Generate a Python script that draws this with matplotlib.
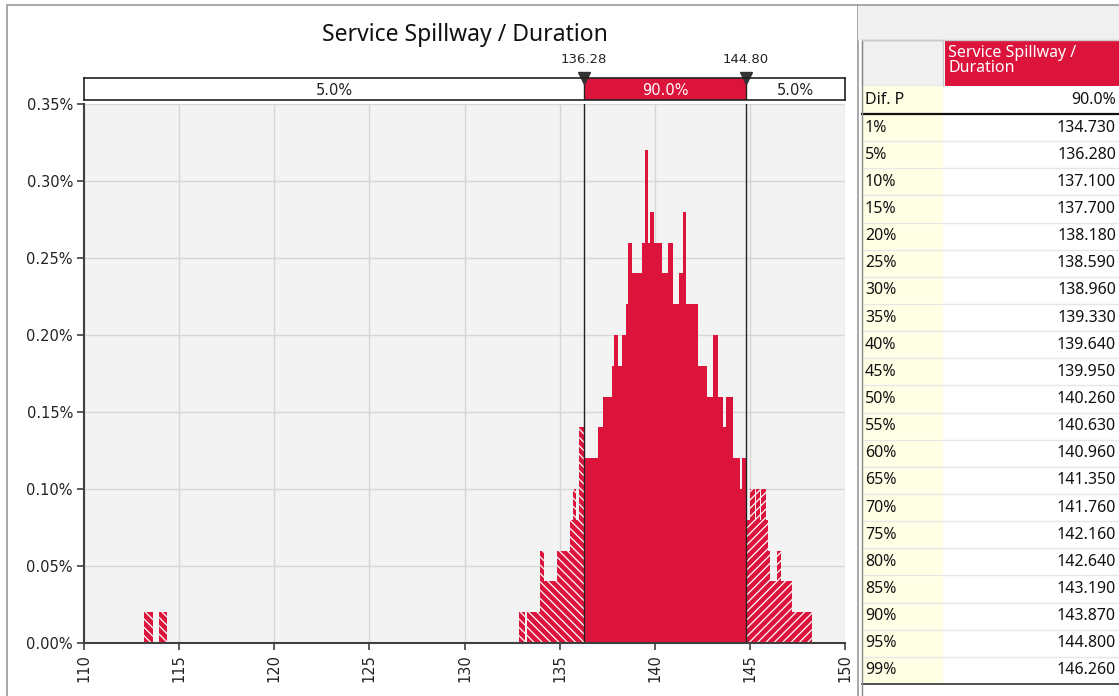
import numpy as np
import matplotlib
matplotlib.use("Agg")
import matplotlib.pyplot as plt
from matplotlib.patches import Rectangle
from matplotlib.lines import Line2D
from matplotlib.ticker import FuncFormatter

# histogram: bin edges (days) and heights (%)
bin_edges = [113.16, 113.63, 113.95, 114.37, 132.89, 133.16, 133.26, 133.95, 134.16,
             134.84, 135.53, 135.68, 135.84, 136.00, 136.28, 137.00, 137.26, 137.74,
             137.84, 138.05, 138.26, 138.47, 138.58, 138.79, 139.32, 139.47, 139.63,
             139.74, 139.95, 140.37, 140.68, 140.95, 141.26, 141.47, 141.63, 142.26,
             142.74, 142.84, 143.05, 143.32, 143.58, 143.74, 144.10, 144.47, 144.58,
             144.80, 145.00, 145.25, 145.31, 145.52, 145.58, 145.84, 145.95, 146.05,
             146.42, 146.63, 147.21, 148.26]
bin_heights = [0.02, 0.00, 0.02, 0.00, 0.02, 0.00, 0.02, 0.06, 0.04,
               0.06, 0.08, 0.10, 0.08, 0.14, 0.12, 0.14, 0.16,
               0.18, 0.20, 0.18, 0.20, 0.22, 0.26, 0.24, 0.26, 0.32,
               0.26, 0.28, 0.26, 0.24, 0.26, 0.22, 0.24, 0.28, 0.22,
               0.18, 0.16, 0.16, 0.20, 0.16, 0.14, 0.16, 0.12, 0.10,
               0.12, 0.08, 0.10, 0.08, 0.10, 0.08, 0.10, 0.08, 0.06,
               0.04, 0.06, 0.04, 0.02]

title = "Service Spillway / Duration"
lower_mark, upper_mark = 136.28, 144.80
band_labels = ["5.0%", "90.0%", "5.0%"]

pct_labels = ["1%", "5%", "10%", "15%", "20%", "25%", "30%", "35%", "40%", "45%", "50%",
              "55%", "60%", "65%", "70%", "75%", "80%", "85%", "90%", "95%", "99%"]
pct_values = [134.730, 136.280, 137.100, 137.700, 138.180, 138.590, 138.960, 139.330,
              139.640, 139.950, 140.260, 140.630, 140.960, 141.350, 141.760, 142.160,
              142.640, 143.190, 143.870, 144.800, 146.260]
dif_p = "90.0%"

RED = "#DC143C"
W, H = 1119, 696
plt.rcParams["hatch.linewidth"] = 0.9

def fx(px):
    return px / W

def fy(py):
    return 1 - py / H

fig = plt.figure(figsize=(W / 100, H / 100), dpi=100)
fig.patch.set_facecolor("white")

# panel frames
fig.patches.append(Rectangle((fx(7), fy(700)), fx(851), 695 / H, transform=fig.transFigure,
                             fill=False, edgecolor="#9a9a9a", lw=1.2))
fig.patches.append(Rectangle((fx(858), fy(40)), fx(261), 36 / H, transform=fig.transFigure,
                             facecolor="#f0f0f0", edgecolor="none"))
fig.lines.append(Line2D([fx(858), 1], [fy(4.5), fy(4.5)], transform=fig.transFigure,
                        color="#9a9a9a", lw=1.2))

# main histogram
ax = fig.add_axes([fx(84), fy(643), fx(845 - 84), (643 - 104) / H])
ax.set_facecolor("#f3f3f3")
edges = np.array(bin_edges)
heights = np.array(bin_heights)
lefts = edges[:-1]
widths = np.diff(edges)
mid = (lefts >= lower_mark - 1e-6) & (lefts < upper_mark - 1e-6)
low = lefts < lower_mark - 1e-6
high = lefts >= upper_mark - 1e-6

ax.bar(lefts[mid], heights[mid], widths[mid], align="edge", color=RED, lw=0)
ax.bar(lefts[low], heights[low], widths[low], align="edge", facecolor=RED,
       edgecolor="white", lw=0, hatch="\\\\\\\\")
ax.bar(lefts[high], heights[high], widths[high], align="edge", facecolor=RED,
       edgecolor="white", lw=0, hatch="////")

ax.axvline(lower_mark, color="#222222", lw=1)
ax.axvline(upper_mark, color="#222222", lw=1)

ax.set_xlim(110, 150)
ax.set_ylim(0, 0.35)
ax.set_xticks(np.arange(110, 151, 5))
ax.set_yticks(np.arange(0, 0.351, 0.05))
ax.yaxis.set_major_formatter(FuncFormatter(lambda v, p: f"{v:.2f}%"))
ax.grid(True, color="#d6d6d6", lw=1)
ax.set_axisbelow(True)
for s in ["top", "right"]:
    ax.spines[s].set_visible(False)
for s in ["left", "bottom"]:
    ax.spines[s].set_color("#404040")
    ax.spines[s].set_linewidth(1.5)
ax.tick_params(axis="both", length=5, width=1.2, color="#404040", labelsize=10.5,
               labelcolor="#222222", pad=3)
ax.tick_params(axis="x", labelrotation=90)

# header band with percentiles
axh = fig.add_axes([fx(84), fy(100), fx(845 - 84), 22 / H])
axh.set_xlim(110, 150)
axh.set_ylim(0, 1)
axh.axvspan(lower_mark, upper_mark, color=RED, lw=0)
axh.axvline(lower_mark, color="#222222", lw=1)
axh.axvline(upper_mark, color="#222222", lw=1)
for sp in axh.spines.values():
    sp.set_color("#222222")
    sp.set_linewidth(1.2)
axh.set_xticks([])
axh.set_yticks([])
band_centres = [(110 + lower_mark) / 2, (lower_mark + upper_mark) / 2, (upper_mark + 150) / 2]
band_colors = ["#222222", "white", "#222222"]
for xc, lab, c in zip(band_centres, band_labels, band_colors):
    axh.text(xc, 0.45, lab, ha="center", va="center", fontsize=10.5, color=c)
for m in [lower_mark, upper_mark]:
    axh.plot([m], [1.0], marker="v", markersize=9, color="#333333", clip_on=False)
    axh.text(m, 1.55, f"{m:.2f}", ha="center", va="bottom", fontsize=9.5, color="#222222")

fig.text(fx(465), fy(35), title, ha="center", va="center", fontsize=16.5,
         family="Noto Sans", color="#111111")

# statistics table
c0, c1, c2 = 862, 943, 1119
tf = "Noto Sans"
fs = 11.5
fig.patches.append(Rectangle((fx(c0), fy(86)), fx(c1 - c0), 46 / H, transform=fig.transFigure,
                             facecolor="#f0f0f0", edgecolor="#c8c8c8", lw=1))
fig.patches.append(Rectangle((fx(c1 + 2), fy(86)), fx(c2 - c1 - 2), 46 / H,
                             transform=fig.transFigure, facecolor=RED, edgecolor="none"))
fig.text(fx(c1 + 5), fy(45), "Service Spillway /\nDuration", ha="left", va="top",
         fontsize=fs, color="white", family=tf, linespacing=0.9)

row_h = (684 - 114) / len(pct_labels)
fig.patches.append(Rectangle((fx(c0), fy(684)), fx(c1 - c0), (684 - 86) / H,
                             transform=fig.transFigure, facecolor="#ffffe6", edgecolor="none"))
fig.text(fx(c0 + 3), fy(100), "Dif. P", ha="left", va="center", fontsize=fs, family=tf,
         color="#111111")
fig.text(fx(c2 - 3), fy(100), dif_p, ha="right", va="center", fontsize=fs, family=tf,
         color="#111111")
fig.lines.append(Line2D([fx(c0), 1], [fy(114), fy(114)], transform=fig.transFigure,
                        color="#111111", lw=1.6))
for i, (lab, val) in enumerate(zip(pct_labels, pct_values)):
    top = 114 + i * row_h
    yc = top + row_h / 2
    fig.text(fx(c0 + 3), fy(yc), lab, ha="left", va="center", fontsize=fs, family=tf,
             color="#111111")
    fig.text(fx(c2 - 3), fy(yc), f"{val:.3f}", ha="right", va="center", fontsize=fs,
             family=tf, color="#111111")
    if i < len(pct_labels) - 1:
        fig.lines.append(Line2D([fx(c0), 1], [fy(top + row_h)] * 2, transform=fig.transFigure,
                                color="#e6e6e6", lw=1))
fig.lines.append(Line2D([fx(c0), 1], [fy(684), fy(684)], transform=fig.transFigure,
                        color="#333333", lw=1.2))
fig.lines.append(Line2D([fx(c0), fx(c0)], [fy(40), 0], transform=fig.transFigure,
                        color="#888888", lw=1))
fig.lines.append(Line2D([fx(c0), 1], [fy(40), fy(40)], transform=fig.transFigure,
                        color="#c8c8c8", lw=1))

fig.savefig("out.png", dpi=100)
